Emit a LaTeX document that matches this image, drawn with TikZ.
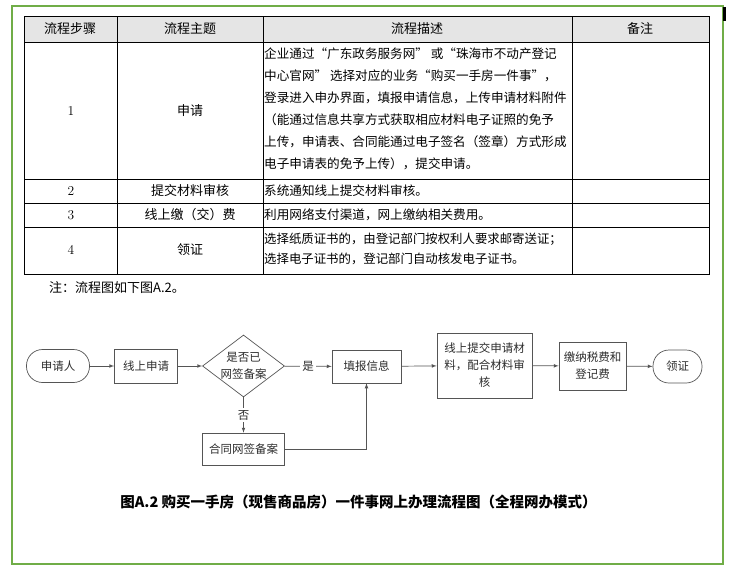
\documentclass[tikz,border=0pt]{standalone}
\usepackage{fontspec}
\usepackage{tikz}
\newfontfamily\cjk{Noto Sans CJK SC}
\usetikzlibrary{arrows}
\usetikzlibrary{shapes.geometric}
\usetikzlibrary{positioning}

\definecolor{frame}{RGB}{112,173,71}
\definecolor{headfill}{RGB}{229,229,229}
\definecolor{flowline}{RGB}{85,85,85}
\definecolor{flowtext}{RGB}{45,45,45}

\tikzset{
    every node/.style={inner sep=0pt, font=\cjk\fontsize{13}{22}\selectfont},
    num/.style={font=\rmfamily\fontsize{13.5}{14}\selectfont},
    desc/.style={anchor=north west, align=left, font=\cjk\fontsize{12.6}{22}\selectfont},
    flow/.style={draw=flowline, line width=0.7pt, text=flowtext, align=center,
        font=\cjk\fontsize{11.5}{17}\selectfont},
    stepbox/.style={flow, rectangle},
    terminal/.style={flow, rectangle, rounded corners=16pt},
    decision/.style={flow, diamond, minimum width=82pt, minimum height=62pt},
    tag/.style={fill=white, inner sep=2pt, text=flowtext, font=\cjk\fontsize{11.5}{14}\selectfont}
}

\begin{document}
\begin{tikzpicture}[x=1pt,y=-1pt,>=latex]
    \useasboundingbox (0,0) rectangle (731,570);
    % outer frame
    \draw [frame, line width=1.2pt] (12,6) rectangle (723,564);
    \fill (723,7) rectangle (725.5,21);

    % Draw table
    \fill [headfill] (24,16) rectangle (709,42);
    \draw [line width=0.8pt] (24,16) rectangle (709,274);
    \foreach \y in {42,179,203,227}
        \draw [line width=0.8pt] (24,\y) -- (709,\y);
    \foreach \x in {117,263,572}
        \draw [line width=0.8pt] (\x,16) -- (\x,274);

    % table header
    \node (hstep) at (70,29) {流程步骤};
    \node (htopic) at (190,29) {流程主题};
    \node (hdesc) at (417,29) {流程描述};
    \node (hnote) at (640,29) {备注};

    % table rows
    \node [num] (n1) at (71,111) {1};
    \node (t1) at (190,111) {申请};
    \node [desc] (d1) at (264,48) {企业通过“广东政务服务网” 或“珠海市不动产登记\\
        中心官网” 选择对应的业务“购买一手房一件事”，\\
        登录进入申办界面，填报申请信息，上传申请材料附件\\
        （能通过信息共享方式获取相应材料电子证照的免予\\
        上传，申请表、合同能通过电子签名（签章）方式形成\\
        电子申请表的免予上传），提交申请。};
    \node [num] (n2) at (71,191) {2};
    \node (t2) at (190,191) {提交材料审核};
    \node [desc, anchor=west] (d2) at (264,191) {系统通知线上提交材料审核。};
    \node [num] (n3) at (71,215) {3};
    \node (t3) at (190,215) {线上缴（交）费};
    \node [desc, anchor=west] (d3) at (264,215) {利用网络支付渠道，网上缴纳相关费用。};
    \node [num] (n4) at (71,250) {4};
    \node (t4) at (190,250) {领证};
    \node [desc, font=\cjk\fontsize{12.4}{20}\selectfont] (d4) at (264,233)
        {选择纸质证书的，由登记部门按权利人要求邮寄送证；\\选择电子证书的，登记部门自动核发电子证书。};

    \node [anchor=west] (remark) at (49,288) {注：流程图如下图A.2。};

    % flow chart
    \node [terminal, minimum width=63pt, minimum height=33pt] (applicant) at (58,366) {申请人};
    \node [stepbox, minimum width=63pt, minimum height=34pt] (online) at (146,366) {线上申请};
    \node [decision, label={[flow, draw=none]center:是否已\\网签备案}] (signed) at (243.5,366) {};
    \node [stepbox, minimum width=69pt, minimum height=33pt] (fillin) at (366.5,366.5) {填报信息};
    \node [stepbox, minimum width=82pt, minimum height=32pt] (contract) at (243.5,449) {合同网签备案};
    \node [stepbox, minimum width=95pt, minimum height=65pt] (submit) at (484.5,365.5)
        {线上提交申请材\\料，配合材料审\\核};
    \node [stepbox, minimum width=67pt, minimum height=48pt] (pay) at (592.5,366) {缴纳税费和\\登记费};
    \node [terminal, minimum width=49pt, minimum height=33pt] (cert) at (677.5,366.5) {领证};

    \draw [->, flowline, line width=0.7pt] (applicant) -- (online);
    \draw [->, flowline, line width=0.7pt] (online) -- (signed);
    \draw [->, flowline, line width=0.7pt] (signed) -- node [tag] (yes) {是} (fillin);
    \draw [->, flowline, line width=0.7pt] (signed) -- node [tag] (no) {否} (contract);
    \draw [->, flowline, line width=0.7pt] (contract) -| (fillin);
    \draw [->, flowline, line width=0.7pt] (fillin) -- (submit);
    \draw [->, flowline, line width=0.7pt] (submit) -- (pay);
    \draw [->, flowline, line width=0.7pt] (pay) -- (cert);

    % caption
    \node [font=\cjk\bfseries\fontsize{14.5}{16}\selectfont] (caption) at (358.5,502)
        {图A.2 购买一手房（现售商品房）一件事网上办理流程图（全程网办模式）};
\end{tikzpicture}
\end{document}
